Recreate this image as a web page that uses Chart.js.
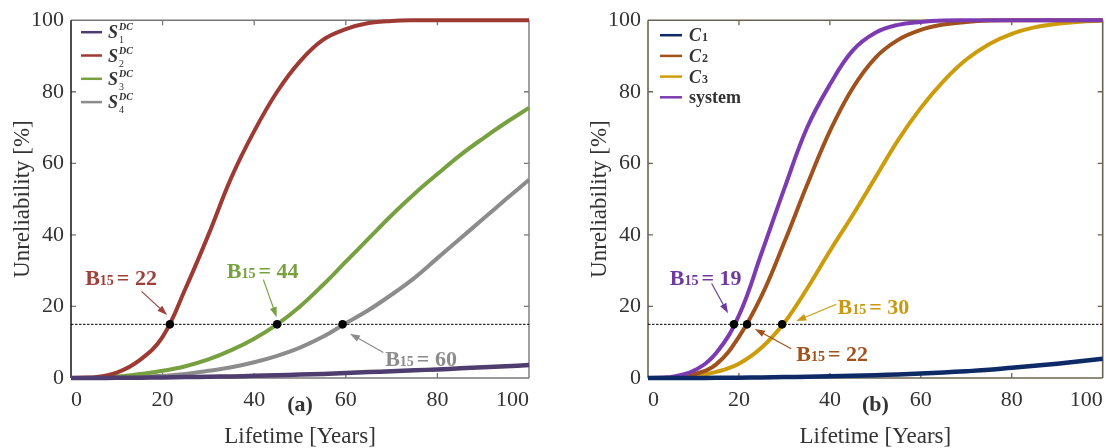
<!DOCTYPE html>
<html>
<head>
<meta charset="utf-8">
<script src="https://cdn.jsdelivr.net/npm/chart.js@4.4.1/dist/chart.umd.min.js"></script>
<style>
    html, body { margin: 0; padding: 0; background: #fff; }
    #wrap { position: relative; width: 1107px; height: 448px; overflow: hidden; }
    .panel { position: absolute; top: 0; height: 448px; }
</style>
</head>
<body>
<div id="wrap">
    <div class="panel" style="left:0;width:553px"><canvas id="chartA" width="553" height="448"></canvas></div>
    <div class="panel" style="left:553px;width:554px"><canvas id="chartB" width="554" height="448"></canvas></div>
</div>
<script>
// ==========================================
// DATA
// ==========================================

const years = [0, 5, 10, 15, 20, 25, 30, 35, 40, 45, 50, 55, 60, 65, 70, 75, 80, 85, 90, 95, 100];

// panel (a) - unreliability [%] of the DC subsystems
const s1Values = [0, 0.02, 0.05, 0.1, 0.15, 0.25, 0.35, 0.45, 0.6, 0.75, 0.95, 1.15, 1.4, 1.65, 1.9, 2.15, 2.4, 2.7, 3.0, 3.3, 3.6];
const s2Values = [0, 0.2, 1.5, 5, 11.5, 25, 40, 56, 69, 80, 88.5, 94.5, 97.5, 99.2, 99.8, 100, 100, 100, 100, 100, 100];
const s3Values = [0, 0.1, 0.4, 1.1, 2.0, 3.3, 5.2, 7.8, 11, 15, 20, 26, 32.5, 39, 45.5, 51.5, 57, 62.3, 67, 71.4, 75.5];
const s4Values = [0, 0, 0.1, 0.3, 0.6, 1.1, 2.0, 3.0, 4.4, 6.2, 8.5, 11.5, 15.3, 19, 23.3, 28, 33.5, 39, 44.5, 50, 55.4];

// panel (b) - components and system
const c1Values = [0, 0, 0.02, 0.05, 0.1, 0.15, 0.25, 0.35, 0.5, 0.65, 0.8, 1.0, 1.25, 1.55, 1.9, 2.3, 2.85, 3.4, 4.0, 4.7, 5.4];
const c2Values = [0, 0.1, 1, 3.8, 11.5, 23, 38, 54, 69, 81, 89.5, 94.5, 97.3, 98.8, 99.5, 99.9, 100, 100, 100, 100, 100];
const c3Values = [0, 0.1, 0.5, 1.7, 4, 8.5, 15.5, 25, 35.5, 45.5, 56, 66.5, 75.5, 83, 89, 93.3, 96.2, 98, 99, 99.6, 99.9];
const systemValues = [0, 0.3, 2, 7, 17.5, 35, 53, 70, 82, 91.5, 96.5, 98.7, 99.5, 99.9, 100, 100, 100, 100, 100, 100, 100];

// B15 lifetimes (where each curve crosses 15 %)
const threshold = 15;
const b15Left = [21.6, 45, 59.3];
const b15Right = [18.9, 21.8, 29.5];
const b15LabelsLeft = ['22', '44', '60'];
const b15LabelsRight = ['19', '30', '22'];

const axisMin = 0;
const axisMax = 100;
const tickStep = 20;

// ==========================================
// HELPERS
// ==========================================

const SERIF = '"Liberation Serif", "DejaVu Serif", serif';
const TEXT = '#333333';

function toPoints(values) {
    return values.map((v, i) => ({ x: years[i], y: v }));
}

function curve(label, values, color, width) {
    return {
        label: label,
        data: toPoints(values),
        borderColor: color,
        backgroundColor: color,
        borderWidth: width || 4,
        pointRadius: 0,
        tension: 0.4,
        clip: false
    };
}

function thresholdLine() {
    return {
        label: 'threshold',
        data: [{ x: axisMin, y: threshold }, { x: axisMax, y: threshold }],
        borderColor: '#000',
        borderWidth: 1,
        borderDash: [2.5, 1.5],
        pointRadius: 0,
        order: 10
    };
}

function b15Dots(xs) {
    return {
        label: 'B15',
        data: xs.map(v => ({ x: v, y: threshold })),
        showLine: false,
        pointRadius: 4.3,
        pointBackgroundColor: '#000',
        pointBorderWidth: 0,
        order: -1,
        clip: false
    };
}

// draw a run of text pieces with different fonts / offsets
function drawRich(ctx, x, y, parts, color) {
    ctx.fillStyle = color;
    ctx.textAlign = 'left';
    ctx.textBaseline = 'alphabetic';
    let cx = x;
    parts.forEach(p => {
        ctx.font = p.font;
        const px = p.stack ? p.stack.x : cx;
        ctx.fillText(p.text, px, y + (p.dy || 0));
        const w = ctx.measureText(p.text).width;
        cx = Math.max(cx, px + w + (p.gap || 0));
    });
}

function drawArrow(ctx, x0, y0, x1, y1, color) {
    const ang = Math.atan2(y1 - y0, x1 - x0);
    const head = 10;
    const half = 3.5;
    ctx.strokeStyle = color;
    ctx.fillStyle = color;
    ctx.lineWidth = 1.2;
    ctx.beginPath();
    ctx.moveTo(x0, y0);
    ctx.lineTo(x1 - Math.cos(ang) * head * 0.8, y1 - Math.sin(ang) * head * 0.8);
    ctx.stroke();
    ctx.beginPath();
    ctx.moveTo(x1, y1);
    ctx.lineTo(x1 - head * Math.cos(ang) + half * Math.sin(ang), y1 - head * Math.sin(ang) - half * Math.cos(ang));
    ctx.lineTo(x1 - head * Math.cos(ang) - half * Math.sin(ang), y1 - head * Math.sin(ang) + half * Math.cos(ang));
    ctx.closePath();
    ctx.fill();
}

// frame, inner ticks, legend, B15 notes and panel tag
const panelDecor = {
    id: 'panelDecor',
    beforeDatasetsDraw(chart, args, opts) {
        const { ctx, chartArea: a, scales: { x, y } } = chart;
        ctx.save();
        ctx.lineWidth = 1.3;
        ctx.strokeStyle = opts.frame.top;
        for (let v = axisMin + tickStep; v < axisMax; v += tickStep) {
            const px = x.getPixelForValue(v);
            const py = y.getPixelForValue(v);
            ctx.beginPath();
            ctx.moveTo(px, a.top); ctx.lineTo(px, a.top + 5);
            ctx.moveTo(px, a.bottom); ctx.lineTo(px, a.bottom - 5);
            ctx.moveTo(a.left, py); ctx.lineTo(a.left + 5, py);
            ctx.moveTo(a.right, py); ctx.lineTo(a.right - 5, py);
            ctx.stroke();
        }
        const sides = [
            ['top', a.left, a.top, a.right, a.top],
            ['right', a.right, a.top, a.right, a.bottom],
            ['bottom', a.left, a.bottom, a.right, a.bottom],
            ['left', a.left, a.top, a.left, a.bottom]
        ];
        ctx.lineWidth = 1.6;
        sides.forEach(s => {
            ctx.strokeStyle = opts.frame[s[0]];
            ctx.beginPath();
            ctx.moveTo(s[1], s[2]);
            ctx.lineTo(s[3], s[4]);
            ctx.stroke();
        });
        ctx.restore();
    },
    afterDatasetsDraw(chart, args, opts) {
        const { ctx, chartArea: a, scales: { x, y } } = chart;
        ctx.save();

        // B15 notes
        opts.notes.forEach(n => {
            drawArrow(ctx, x.getPixelForValue(n.from[0]), y.getPixelForValue(n.from[1]),
                x.getPixelForValue(n.to[0]), y.getPixelForValue(n.to[1]), n.color);
            drawRich(ctx, x.getPixelForValue(n.at[0]), y.getPixelForValue(n.at[1]) + 8, [
                { text: 'B', font: 'bold 22px ' + SERIF },
                { text: '15', font: 'bold 14px ' + SERIF, gap: 3 },
                { text: '= ' + n.text, font: 'bold 22px ' + SERIF }
            ], n.color);
        });

        // legend
        const lg = opts.legend;
        lg.items.forEach((it, i) => {
            const ry = a.top + lg.dy + i * lg.gap;
            const tx = a.left + lg.dx + lg.textGap;
            ctx.strokeStyle = it.color;
            ctx.lineWidth = 2.5;
            ctx.beginPath();
            ctx.moveTo(a.left + lg.dx, ry);
            ctx.lineTo(a.left + lg.dx + lg.lineLen, ry);
            ctx.stroke();
            const parts = [{ text: it.main, font: it.font, gap: 1 }];
            if (it.sup) parts.push({ text: it.sup, font: 'italic bold 10px ' + SERIF, dy: -8 });
            if (it.sub) {
                const sub = { text: it.sub, font: it.subFont, dy: it.subDy };
                if (it.sup) {
                    // sub sits under the sup, right after the main letter
                    ctx.font = it.font;
                    sub.stack = { x: tx + ctx.measureText(it.main).width + 1 };
                }
                parts.push(sub);
            }
            drawRich(ctx, tx, ry + 6, parts, TEXT);
        });

        // panel tag
        ctx.fillStyle = TEXT;
        ctx.textAlign = 'center';
        ctx.textBaseline = 'middle';
        ctx.font = 'bold 22px ' + SERIF;
        ctx.fillText(opts.tag, (a.left + a.right) / 2, a.bottom + 27);
        ctx.restore();
    }
};

function baseOptions(padding, decor) {
    return {
        responsive: false,
        animation: false,
        layout: { padding: padding },
        plugins: {
            legend: { display: false },
            tooltip: { enabled: false },
            panelDecor: decor
        },
        scales: {
            x: {
                type: 'linear',
                min: axisMin,
                max: axisMax,
                grid: { display: false, drawTicks: false },
                border: { display: false },
                ticks: { stepSize: tickStep, align: 'inner', padding: 9, color: TEXT, font: { family: SERIF, size: 22 } },
                title: { display: true, text: 'Lifetime [Years]', color: TEXT, font: { family: SERIF, size: 23, lineHeight: 1 }, padding: 0 },
                afterFit: s => { s.height = 70; s.paddingLeft = 0; s.paddingRight = 0; }
            },
            y: {
                min: axisMin,
                max: axisMax,
                grid: { display: false, drawTicks: false },
                border: { display: false },
                ticks: { stepSize: tickStep, padding: 7, color: TEXT, font: { family: SERIF, size: 22 } },
                title: { display: true, text: 'Unreliability [%]', color: TEXT, font: { family: SERIF, size: 23, lineHeight: 1 }, padding: { top: 11.5, bottom: 0 } },
                afterFit: s => { s.width = 71; }
            }
        }
    };
}

// ==========================================
// PANEL (a)
// ==========================================

const colorsA = { s1: '#4e3d6e', s2: '#9e3a34', s3: '#77a040', s4: '#8c8c8c' };

new Chart(document.getElementById('chartA'), {
    type: 'line',
    data: {
        datasets: [
            b15Dots(b15Left),
            curve('S1', s1Values, colorsA.s1, 4.5),
            curve('S2', s2Values, colorsA.s2),
            curve('S3', s3Values, colorsA.s3),
            curve('S4', s4Values, colorsA.s4),
            thresholdLine()
        ]
    },
    options: baseOptions({ top: 14, right: 24, left: 0, bottom: 0 }, {
        frame: { top: '#777', right: '#888', bottom: '#777', left: '#222' },
        tag: '(a)',
        legend: {
            dx: 10, dy: 12, gap: 23.3, lineLen: 21, textGap: 27,
            items: [
                { color: colorsA.s1, main: 'S', sup: 'DC', sub: '1', font: 'italic bold 18px ' + SERIF, subFont: '10px ' + SERIF, subDy: 5 },
                { color: colorsA.s2, main: 'S', sup: 'DC', sub: '2', font: 'italic bold 18px ' + SERIF, subFont: '10px ' + SERIF, subDy: 5 },
                { color: colorsA.s3, main: 'S', sup: 'DC', sub: '3', font: 'italic bold 18px ' + SERIF, subFont: '10px ' + SERIF, subDy: 5 },
                { color: colorsA.s4, main: 'S', sup: 'DC', sub: '4', font: 'italic bold 18px ' + SERIF, subFont: '10px ' + SERIF, subDy: 5 }
            ]
        },
        notes: [
            { text: b15LabelsLeft[0], color: '#a0403a', at: [3.1, 28.3], from: [15.4, 24.2], to: [21.0, 17.6] },
            { text: b15LabelsLeft[1], color: '#77a040', at: [34.0, 30.2], from: [42.0, 27.5], to: [44.9, 17.0] },
            { text: b15LabelsLeft[2], color: '#8c8c8c', at: [68.6, 5.5], from: [68.2, 7.1], to: [60.9, 12.4] }
        ]
    }),
    plugins: [panelDecor]
});

// ==========================================
// PANEL (b)
// ==========================================

const colorsB = { c1: '#0d2a66', c2: '#a0521c', c3: '#cc9c0a', system: '#7d3bb2' };

new Chart(document.getElementById('chartB'), {
    type: 'line',
    data: {
        datasets: [
            b15Dots(b15Right),
            curve('C1', c1Values, colorsB.c1, 4.5),
            curve('system', systemValues, colorsB.system),
            curve('C2', c2Values, colorsB.c2),
            curve('C3', c3Values, colorsB.c3),
            thresholdLine()
        ]
    },
    options: baseOptions({ top: 14, right: 3, left: 24, bottom: 0 }, {
        frame: { top: '#6b6452', right: '#6b6452', bottom: '#6b6452', left: '#6b6452' },
        tag: '(b)',
        legend: {
            dx: 12, dy: 15, gap: 20.7, lineLen: 22, textGap: 29,
            items: [
                { color: colorsB.c1, main: 'C', sub: '1', font: 'italic bold 18px ' + SERIF, subFont: 'bold 12px ' + SERIF, subDy: 0 },
                { color: colorsB.c2, main: 'C', sub: '2', font: 'italic bold 18px ' + SERIF, subFont: 'bold 12px ' + SERIF, subDy: 0 },
                { color: colorsB.c3, main: 'C', sub: '3', font: 'italic bold 18px ' + SERIF, subFont: 'bold 12px ' + SERIF, subDy: 0 },
                { color: colorsB.system, main: 'system', font: 'bold 18px ' + SERIF }
            ]
        },
        notes: [
            { text: b15LabelsRight[0], color: '#6f3a9c', at: [4.8, 28.3], from: [14.0, 26.4], to: [17.6, 18.1] },
            { text: b15LabelsRight[1], color: '#c99a10', at: [41.7, 20.1], from: [41.4, 20.6], to: [32.6, 15.9] },
            { text: b15LabelsRight[2], color: '#a0521c', at: [32.6, 6.9], from: [31.5, 8.2], to: [23.5, 13.7] }
        ]
    }),
    plugins: [panelDecor]
});
</script>
</body>
</html>
